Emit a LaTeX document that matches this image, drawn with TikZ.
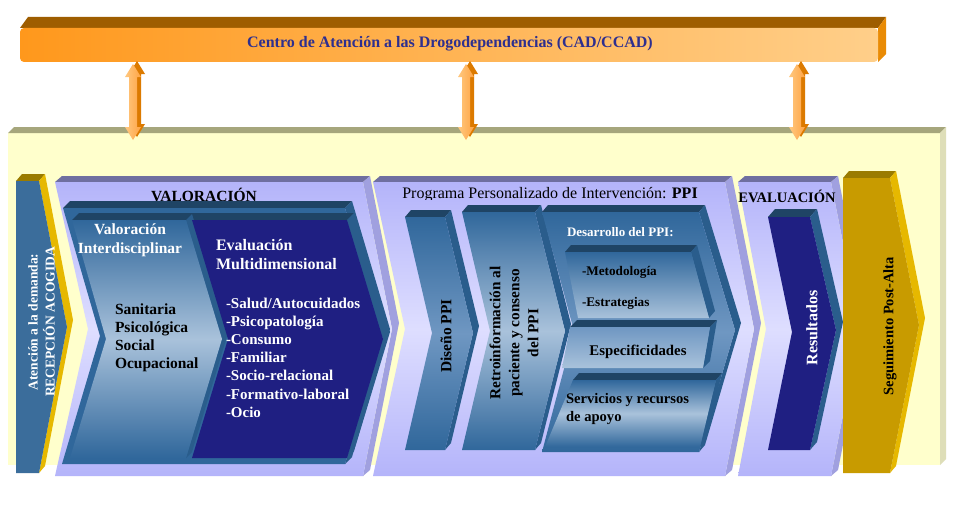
\documentclass[tikz,border=0pt]{standalone}
\usepackage{fontspec}
\setmainfont{Liberation Serif}
\definecolor{bgY}{HTML}{FFFFCC}
\definecolor{bgTop}{HTML}{A6A67C}
\definecolor{bgSide}{HTML}{DEDEB8}
\definecolor{orL}{HTML}{FF981C}
\definecolor{orR}{HTML}{FFCF8A}
\definecolor{orTop}{HTML}{9E5D00}
\definecolor{orSide}{HTML}{E98B05}
\definecolor{arL}{HTML}{FFC880}
\definecolor{arR}{HTML}{FFA444}
\definecolor{arSide}{HTML}{DC7A00}
\definecolor{capNavy}{HTML}{2E2F8F}
\definecolor{stTop}{HTML}{1F4465}
\definecolor{stFront}{HTML}{30679B}
\definecolor{stSide}{HTML}{2A5D8C}
\definecolor{stLight}{HTML}{A9C2DB}
\definecolor{stMid}{HTML}{6F97C2}
\definecolor{navy}{HTML}{1F1F82}
\definecolor{lavTop}{HTML}{6F6FA0}
\definecolor{lavSide}{HTML}{A0A0DF}
\definecolor{lav}{HTML}{B4B4FA}
\definecolor{lavLight}{HTML}{DEDEFF}
\definecolor{goldTop}{HTML}{9A7B00}
\definecolor{gold}{HTML}{C89B00}
\definecolor{goldSide}{HTML}{E6B800}
\definecolor{colBlue}{HTML}{3B6D9B}
\newcommand{\fsz}[2]{\fontsize{#1}{#2}\selectfont}
\newcommand{\dblarrow}[1]{%
  \begin{scope}[shift={(#1,0)}]
    \fill[arSide] (4,61) -- (12,74) -- (8,74) -- (8,124) -- (12,124) -- (4,137) -- (-4,124) -- (0,124) -- (0,74) -- (-4,74) -- cycle;
    \path[left color=arL, right color=arR] (0,64) -- (8,77) -- (4,77) -- (4,127) -- (8,127) -- (0,140) -- (-8,127) -- (-4,127) -- (-4,77) -- (-8,77) -- cycle;
  \end{scope}}
\begin{document}
\begin{tikzpicture}[x=1pt,y=-1pt,
  txt/.style={inner sep=0pt, outer sep=0pt},
  wb/.style={txt, text=white, font=\bfseries},
  kb/.style={txt, text=black, font=\bfseries}]
\useasboundingbox (0,0) rectangle (966,511);
\fill[white] (0,0) rectangle (966,511);

% ---------- background platform ----------
\fill[bgY] (8,133) rectangle (940,465);
\fill[bgTop] (8,133) -- (14,127) -- (946,127) -- (940,133) -- cycle;
\fill[bgSide] (940,133) -- (946,127) -- (946,459) -- (940,465) -- cycle;

% ---------- top bar ----------
\fill[orTop] (20,28) -- (28,17) -- (886,17) -- (878,28) -- cycle;
\fill[orSide] (878,28) -- (886,17) -- (886,54) -- (878,62) -- cycle;
\path[left color=orL, right color=orR, rounded corners=4pt] (20,28) rectangle (878,62);
\node[txt, text=capNavy, font=\bfseries\fsz{16}{19}] (cad) at (450,44) {Centro de Atención a las Drogodependencias (CAD/CCAD)};

% ---------- double arrows ----------
\dblarrow{133}
\dblarrow{466}
\dblarrow{797}

% ---------- left column ----------
\fill[goldTop] (16,181) -- (22,174) -- (45,174) -- (39,181) -- cycle;
\fill[goldSide] (39,181) -- (45,174) -- (73,320) -- (45,466) -- (39,473) -- (67,327) -- cycle;
\fill[colBlue] (16,181) -- (39,181) -- (67,327) -- (39,473) -- (16,473) -- cycle;
\node[wb, rotate=90, align=center, font=\bfseries\fsz{13.5}{17}] (atn) at (41.5,322) {Atención a la demanda:\\RECEPCIÓN ACOGIDA};

% ---------- VALORACION ----------
\fill[lavTop] (55,182) -- (62,176) -- (370,176) -- (363,182) -- cycle;
\fill[lavSide] (363,182) -- (370,176) -- (399,323) -- (370,470) -- (363,476) -- (392,329) -- cycle;
\path[top color=lav, bottom color=lav, middle color=lavLight] (55,182) -- (363,182) -- (392,329) -- (363,476) -- (55,476) -- (88,329) -- cycle;
\node[kb, font=\bfseries\fsz{15.5}{18}] (tval) at (204,195) {VALORACIÓN};

% container
\fill[stTop] (63,208) -- (70,201) -- (352,201) -- (345,208) -- cycle;
\fill[stSide] (345,208) -- (352,201) -- (390,329) -- (352,457) -- (345,464) -- (383,336) -- cycle;
\fill[stFront] (63,208) -- (345,208) -- (383,336) -- (345,464) -- (62,464) -- (100,336) -- cycle;
% top face of the two inner elements
\fill[stTop] (72,220) -- (79,213) -- (354,213) -- (347,220) -- cycle;
% Valoracion interdisciplinar
\fill[stSide] (186,220) -- (192,214) -- (228,333) -- (192,452) -- (186,458) -- (222,339) -- cycle;
\path[top color=stFront, bottom color=stFront, middle color=stLight] (72,220) -- (186,220) -- (222,339) -- (186,458) -- (70,458) -- (106,339) -- cycle;
% Evaluacion multidimensional
\fill[stSide] (347,220) -- (354,213) -- (390,332) -- (354,451) -- (347,458) -- (383,339) -- cycle;
\fill[navy] (192,220) -- (347,220) -- (383,339) -- (347,458) -- (192,458) -- (228,339) -- cycle;

\node[wb, align=center, font=\bfseries\fsz{15.5}{19}] (vi) at (130,240) {Valoración\\Interdisciplinar};
\node[kb, align=left, anchor=west, font=\bfseries\fsz{15.5}{18}] (vis) at (115,338) {Sanitaria\\Psicológica\\Social\\Ocupacional};
\node[wb, align=left, anchor=west, font=\bfseries\fsz{16}{19}] (em) at (216,254.5) {Evaluación\\Multidimensional};
\node[wb, align=left, anchor=west, font=\bfseries\fsz{15}{18.2}] (eml) at (226,357.5) {-Salud/Autocuidados\\-Psicopatología\\-Consumo\\-Familiar\\-Socio-relacional\\-Formativo-laboral\\-Ocio};

% ---------- PPI ----------
\fill[lavTop] (373,182) -- (380,176) -- (732,176) -- (725,182) -- cycle;
\fill[lavSide] (725,182) -- (732,176) -- (761,323) -- (732,470) -- (725,476) -- (754,329) -- cycle;
\path[top color=lav, bottom color=lav, middle color=lavLight] (373,182) -- (725,182) -- (754,329) -- (725,476) -- (373,476) -- (405,329) -- cycle;
\begin{scope}
  \clip (370,180) rectangle (730,199);
  \node[txt, font=\fsz{16}{19}] (tppi) at (550,195) {Programa Personalizado de Intervención: \textbf{PPI}};
\end{scope}

% Diseno PPI
\fill[stTop] (405,217) -- (411,210) -- (451,210) -- (445,217) -- cycle;
\fill[stSide] (445,217) -- (451,210) -- (479,326) -- (451,443) -- (445,450) -- (473,333) -- cycle;
\path[top color=stFront, bottom color=stFront, middle color=stMid] (405,217) -- (445,217) -- (473,333) -- (445,450) -- (405,450) -- (432,333) -- cycle;
\node[kb, rotate=90, font=\bfseries\fsz{15.5}{19}] (dis) at (446,336) {Diseño PPI};

% Retroinformacion
\fill[stTop] (462,212) -- (468,205) -- (541,205) -- (535,212) -- cycle;
\fill[stSide] (535,212) -- (541,205) -- (571,324) -- (541,443) -- (535,450) -- (565,331) -- cycle;
\path[top color=stFront, bottom color=stFront, middle color=stLight] (462,212) -- (535,212) -- (565,331) -- (535,450) -- (462,450) -- (490,331) -- cycle;
\node[kb, rotate=90, align=center, font=\bfseries\fsz{15.3}{19}] (retro) at (514,333) {Retroinformación al\\paciente y consenso\\del PPI};

% Desarrollo container
\fill[stTop] (542,212) -- (548,205) -- (705,205) -- (699,212) -- cycle;
\fill[stSide] (699,212) -- (705,205) -- (741,323) -- (705,445) -- (699,452) -- (735,330) -- cycle;
\path[top color=stFront, bottom color=stFront, middle color=stMid] (542,212) -- (699,212) -- (735,330) -- (699,452) -- (542,452) -- (574,331) -- cycle;
\node[wb, anchor=west, font=\bfseries\fsz{13}{16}] (dppi) at (567,232) {Desarrollo del PPI:};

% Metodologia box
\fill[stTop] (565,252) -- (571,245) -- (697,245) -- (691,252) -- cycle;
\fill[stSide] (691,252) -- (697,245) -- (715,311) -- (709,318) -- cycle;
\path[top color=stFront, bottom color=stLight] (565,252) -- (691,252) -- (709,318) -- (578,318) -- cycle;
\node[kb, anchor=west, font=\bfseries\fsz{13.2}{16}] (met) at (582,272) {-Metodología};
\node[kb, anchor=west, font=\bfseries\fsz{13.2}{16}] (est) at (582,303) {-Estrategias};

% Especificidades box
\fill[stTop] (570,327) -- (577,320) -- (717,320) -- (710,327) -- cycle;
\fill[stSide] (710,327) -- (717,320) -- (710,361) -- (703,368) -- cycle;
\path[top color=stMid, bottom color=stLight] (570,327) -- (710,327) -- (703,368) -- (562,368) -- cycle;
\node[kb, font=\bfseries\fsz{14.8}{18}] (esp) at (638,352) {Especificidades};

% Servicios box
\fill[stTop] (573,380) -- (579,373) -- (722,373) -- (716,380) -- cycle;
\fill[stSide] (716,380) -- (722,373) -- (706,440) -- (700,447) -- cycle;
\path[top color=stFront, bottom color=stFront, middle color=stLight] (573,380) -- (716,380) -- (700,447) -- (545,447) -- cycle;
\node[kb, align=left, anchor=west, font=\bfseries\fsz{14.6}{18}] (serv) at (566,409) {Servicios y recursos\\de apoyo};

% ---------- EVALUACION ----------
\fill[lavTop] (738,182) -- (745,176) -- (838,176) -- (831,182) -- cycle;
\fill[lavSide] (831,182) -- (838,176) -- (867,323) -- (838,470) -- (831,476) -- (860,329) -- cycle;
\path[top color=lav, bottom color=lav, middle color=lavLight] (738,182) -- (831,182) -- (860,329) -- (831,476) -- (738,476) -- (766,329) -- cycle;
\node[kb, font=\bfseries\fsz{14.5}{18}] (teval) at (787,196) {EVALUACIÓN};

% Resultados
\fill[stTop] (768,217) -- (775,209) -- (817,209) -- (810,217) -- cycle;
\fill[stSide] (810,217) -- (817,209) -- (843,322) -- (817,442) -- (810,450) -- (836,330) -- cycle;
\fill[navy] (768,217) -- (810,217) -- (836,330) -- (810,450) -- (768,450) -- (792,332) -- cycle;
\node[wb, rotate=90, font=\bfseries\fsz{16}{19}] (res) at (812,328) {Resultados};

% ---------- Seguimiento ----------
\fill[goldTop] (843,178) -- (849,171) -- (896,171) -- (890,178) -- cycle;
\fill[goldSide] (890,178) -- (896,171) -- (925,318) -- (896,466) -- (890,473) -- (919,325) -- cycle;
\fill[gold] (843,178) -- (890,178) -- (919,325) -- (890,473) -- (843,473) -- cycle;
\node[kb, rotate=90, font=\bfseries\fsz{14.5}{18}] (seg) at (890,326) {Seguimiento Post-Alta};

\end{tikzpicture}
\end{document}
